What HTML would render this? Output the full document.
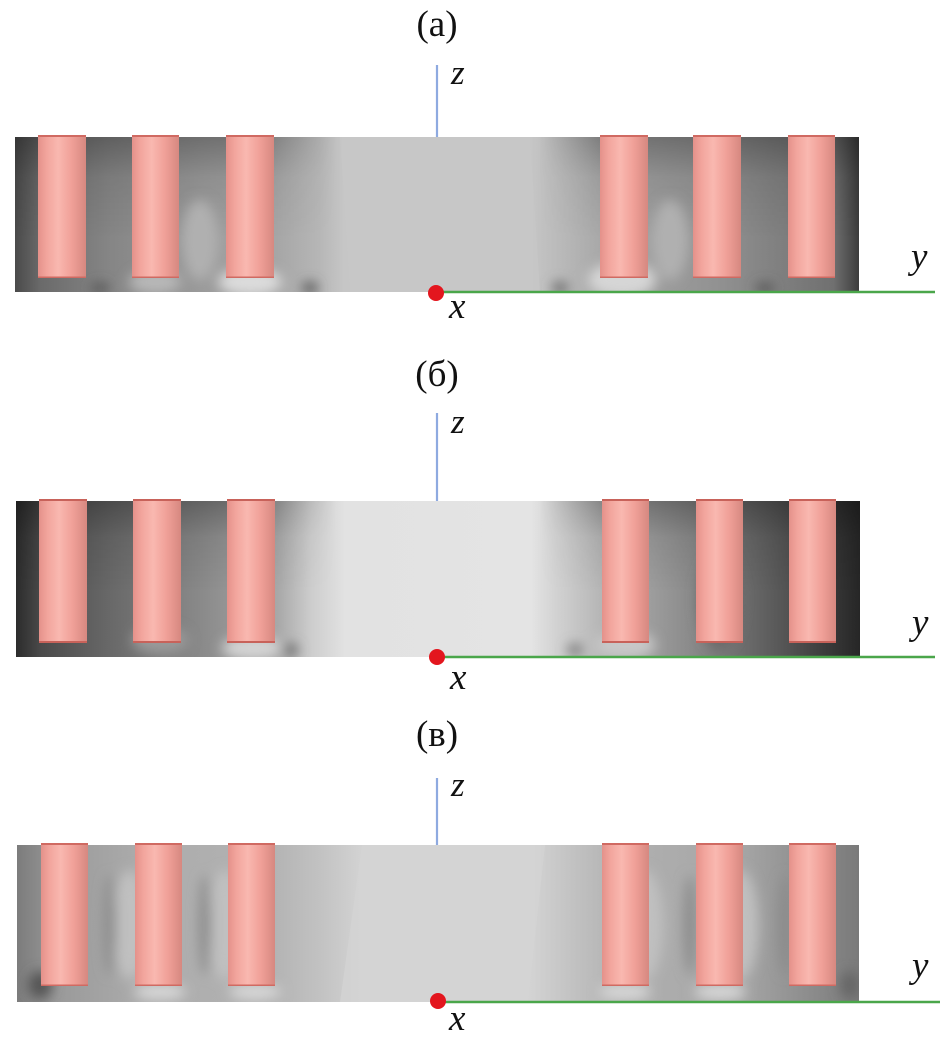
<!DOCTYPE html>
<html><head><meta charset="utf-8"><style>
html,body{margin:0;padding:0;background:#fff;}
svg{display:block;}
text{font-family:"Liberation Serif",serif;fill:#111;}
.it{font-style:italic;}
</style></head><body>
<svg width="945" height="1048" viewBox="0 0 945 1048" xmlns="http://www.w3.org/2000/svg">
<defs>
<linearGradient id="cyl" x1="0" y1="0" x2="1" y2="0">
<stop offset="0" stop-color="#e4918a"/>
<stop offset="0.18" stop-color="#f2a59d"/>
<stop offset="0.42" stop-color="#f9b8b0"/>
<stop offset="0.7" stop-color="#f0a098"/>
<stop offset="1" stop-color="#d68880"/>
</linearGradient>
<linearGradient id="ga" gradientUnits="userSpaceOnUse" x1="15" y1="0" x2="859" y2="0">
<stop offset="0" stop-color="#4a4a4a"/>
<stop offset="0.03" stop-color="#6a6a6a"/>
<stop offset="0.11" stop-color="#858585"/>
<stop offset="0.22" stop-color="#9a9a9a"/>
<stop offset="0.31" stop-color="#a6a6a6"/>
<stop offset="0.36" stop-color="#b6b6b6"/>
<stop offset="0.39" stop-color="#c6c6c6"/>
<stop offset="0.61" stop-color="#c6c6c6"/>
<stop offset="0.65" stop-color="#b8b8b8"/>
<stop offset="0.70" stop-color="#a6a6a6"/>
<stop offset="0.83" stop-color="#929292"/>
<stop offset="0.97" stop-color="#707070"/>
<stop offset="1" stop-color="#3c3c3c"/>
</linearGradient>
<linearGradient id="gb" gradientUnits="userSpaceOnUse" x1="16" y1="0" x2="860" y2="0">
<stop offset="0" stop-color="#2c2c2c"/>
<stop offset="0.03" stop-color="#4a4a4a"/>
<stop offset="0.11" stop-color="#686868"/>
<stop offset="0.22" stop-color="#8a8a8a"/>
<stop offset="0.31" stop-color="#a8a8a8"/>
<stop offset="0.35" stop-color="#cdcdcd"/>
<stop offset="0.39" stop-color="#e2e2e2"/>
<stop offset="0.61" stop-color="#e4e4e4"/>
<stop offset="0.64" stop-color="#d2d2d2"/>
<stop offset="0.70" stop-color="#b2b2b2"/>
<stop offset="0.80" stop-color="#8a8a8a"/>
<stop offset="0.90" stop-color="#5a5a5a"/>
<stop offset="1" stop-color="#262626"/>
</linearGradient>
<linearGradient id="gc" gradientUnits="userSpaceOnUse" x1="17" y1="0" x2="859" y2="0">
<stop offset="0" stop-color="#7c7c7c"/>
<stop offset="0.05" stop-color="#9a9a9a"/>
<stop offset="0.15" stop-color="#acacac"/>
<stop offset="0.30" stop-color="#b2b2b2"/>
<stop offset="0.36" stop-color="#c2c2c2"/>
<stop offset="0.41" stop-color="#d3d3d3"/>
<stop offset="0.61" stop-color="#d3d3d3"/>
<stop offset="0.66" stop-color="#c2c2c2"/>
<stop offset="0.72" stop-color="#b0b0b0"/>
<stop offset="0.86" stop-color="#a6a6a6"/>
<stop offset="1" stop-color="#7a7a7a"/>
</linearGradient>
<linearGradient id="topdark" x1="0" y1="0" x2="0" y2="1">
<stop offset="0" stop-color="#000" stop-opacity="0.28"/>
<stop offset="0.4" stop-color="#000" stop-opacity="0.08"/>
<stop offset="1" stop-color="#000" stop-opacity="0"/>
</linearGradient>
<linearGradient id="sidefade" gradientUnits="userSpaceOnUse" x1="15" y1="0" x2="860" y2="0">
<stop offset="0" stop-color="#fff"/>
<stop offset="0.28" stop-color="#fff"/>
<stop offset="0.38" stop-color="#000"/>
<stop offset="0.62" stop-color="#000"/>
<stop offset="0.70" stop-color="#fff"/>
<stop offset="1" stop-color="#fff"/>
</linearGradient>
<mask id="sm" maskUnits="userSpaceOnUse" x="0" y="0" width="945" height="1048">
<rect x="0" y="0" width="945" height="1048" fill="url(#sidefade)"/>
</mask>
<filter id="bl" x="-50%" y="-50%" width="200%" height="200%"><feGaussianBlur stdDeviation="6"/></filter>
<clipPath id="ca"><rect x="15" y="137" width="844" height="155"/></clipPath>
<clipPath id="cb"><rect x="16" y="501" width="844" height="156"/></clipPath>
<clipPath id="cc"><rect x="17" y="845" width="842" height="157"/></clipPath>
</defs>

<!-- ===== Panel (a) ===== -->
<text x="437" y="36" font-size="37" text-anchor="middle">(а)</text>
<line x1="437" y1="65" x2="437" y2="137" stroke="#8eaae0" stroke-width="2.2"/>
<text class="it" x="451" y="84" font-size="35">z</text>
<rect x="15" y="137" width="844" height="155" fill="url(#ga)"/>
<g clip-path="url(#ca)">
<rect x="15" y="137" width="844" height="100" fill="url(#topdark)" mask="url(#sm)"/>
<g filter="url(#bl)">
<ellipse cx="250" cy="282" rx="32" ry="14" fill="#dcdcdc"/>
<ellipse cx="155" cy="282" rx="26" ry="12" fill="#b8b8b8"/>
<ellipse cx="622" cy="280" rx="34" ry="18" fill="#d6d6d6"/>
<ellipse cx="200" cy="240" rx="18" ry="40" fill="#b0b0b0"/>
<ellipse cx="670" cy="240" rx="18" ry="40" fill="#b0b0b0"/>
<ellipse cx="310" cy="288" rx="8" ry="6" fill="#555"/>
<ellipse cx="100" cy="288" rx="10" ry="5" fill="#555"/>
<ellipse cx="560" cy="288" rx="8" ry="6" fill="#666"/>
<ellipse cx="765" cy="288" rx="10" ry="5" fill="#555"/>
</g>
<polygon points="340,137 530,137 540,292 350,292" fill="#c8c8c8" opacity="0.6"/>
</g>
<g>
<rect x="38" y="135" width="48" height="143" fill="url(#cyl)"/>
<rect x="132" y="135" width="47" height="143" fill="url(#cyl)"/>
<rect x="226" y="135" width="48" height="143" fill="url(#cyl)"/>
<rect x="600" y="135" width="48" height="143" fill="url(#cyl)"/>
<rect x="693" y="135" width="48" height="143" fill="url(#cyl)"/>
<rect x="788" y="135" width="47" height="143" fill="url(#cyl)"/>
<g fill="#d06a62">
<rect x="38" y="135" width="48" height="2"/><rect x="132" y="135" width="47" height="2"/><rect x="226" y="135" width="48" height="2"/>
<rect x="600" y="135" width="48" height="2"/><rect x="693" y="135" width="48" height="2"/><rect x="788" y="135" width="47" height="2"/>
<rect x="38" y="276.5" width="48" height="1.5"/><rect x="132" y="276.5" width="47" height="1.5"/><rect x="226" y="276.5" width="48" height="1.5"/>
<rect x="600" y="276.5" width="48" height="1.5"/><rect x="693" y="276.5" width="48" height="1.5"/><rect x="788" y="276.5" width="47" height="1.5"/>
</g>
</g>
<line x1="437" y1="292" x2="935" y2="292" stroke="#4aa64a" stroke-width="2.5"/>
<circle cx="436" cy="293" r="8" fill="#e3161e"/>
<text class="it" x="449" y="318" font-size="37">x</text>
<text class="it" x="911" y="268" font-size="37">y</text>

<!-- ===== Panel (б) ===== -->
<text x="437" y="386" font-size="37" text-anchor="middle">(б)</text>
<line x1="437" y1="413" x2="437" y2="501" stroke="#8eaae0" stroke-width="2.2"/>
<text class="it" x="451" y="433" font-size="35">z</text>
<rect x="16" y="501" width="844" height="156" fill="url(#gb)"/>
<g clip-path="url(#cb)">
<rect x="16" y="501" width="844" height="90" fill="url(#topdark)" mask="url(#sm)"/>
<g filter="url(#bl)">
<ellipse cx="252" cy="648" rx="30" ry="12" fill="#d4d4d4"/>
<ellipse cx="160" cy="640" rx="28" ry="14" fill="#9a9a9a"/>
<ellipse cx="625" cy="645" rx="30" ry="14" fill="#c8c8c8"/>
<ellipse cx="720" cy="600" rx="22" ry="50" fill="#6a6a6a"/>
<ellipse cx="290" cy="650" rx="8" ry="6" fill="#666"/>
<ellipse cx="575" cy="650" rx="8" ry="6" fill="#777"/>
</g>
</g>
<g>
<rect x="39" y="499" width="48" height="144" fill="url(#cyl)"/>
<rect x="133" y="499" width="48" height="144" fill="url(#cyl)"/>
<rect x="227" y="499" width="48" height="144" fill="url(#cyl)"/>
<rect x="602" y="499" width="47" height="144" fill="url(#cyl)"/>
<rect x="696" y="499" width="47" height="144" fill="url(#cyl)"/>
<rect x="789" y="499" width="47" height="144" fill="url(#cyl)"/>
<g fill="#c8625a">
<rect x="39" y="499" width="48" height="2"/><rect x="133" y="499" width="48" height="2"/><rect x="227" y="499" width="48" height="2"/>
<rect x="602" y="499" width="47" height="2"/><rect x="696" y="499" width="47" height="2"/><rect x="789" y="499" width="47" height="2"/>
<rect x="39" y="641" width="48" height="2"/><rect x="133" y="641" width="48" height="2"/><rect x="227" y="641" width="48" height="2"/>
<rect x="602" y="641" width="47" height="2"/><rect x="696" y="641" width="47" height="2"/><rect x="789" y="641" width="47" height="2"/>
</g>
</g>
<line x1="437" y1="657" x2="935" y2="657" stroke="#4aa64a" stroke-width="2.5"/>
<circle cx="437" cy="657" r="8" fill="#e3161e"/>
<text class="it" x="450" y="689" font-size="37">x</text>
<text class="it" x="912" y="634" font-size="37">y</text>

<!-- ===== Panel (в) ===== -->
<text x="437" y="746" font-size="37" text-anchor="middle">(в)</text>
<line x1="437" y1="778" x2="437" y2="845" stroke="#8eaae0" stroke-width="2.2"/>
<text class="it" x="451" y="796" font-size="35">z</text>
<rect x="17" y="845" width="842" height="157" fill="url(#gc)"/>
<g clip-path="url(#cc)">
<g filter="url(#bl)">
<ellipse cx="130" cy="925" rx="18" ry="55" fill="#c0c0c0"/>
<ellipse cx="225" cy="925" rx="18" ry="55" fill="#c0c0c0"/>
<ellipse cx="645" cy="925" rx="18" ry="55" fill="#c0c0c0"/>
<ellipse cx="740" cy="925" rx="18" ry="55" fill="#c0c0c0"/>
<ellipse cx="110" cy="925" rx="6" ry="50" fill="#8a8a8a"/>
<ellipse cx="205" cy="925" rx="6" ry="50" fill="#8a8a8a"/>
<ellipse cx="690" cy="925" rx="6" ry="50" fill="#8a8a8a"/>
<ellipse cx="785" cy="925" rx="6" ry="50" fill="#8a8a8a"/>
<ellipse cx="40" cy="985" rx="12" ry="14" fill="#555"/>
<ellipse cx="850" cy="985" rx="10" ry="14" fill="#666"/>
<ellipse cx="160" cy="992" rx="26" ry="8" fill="#d8d8d8"/>
<ellipse cx="255" cy="992" rx="26" ry="8" fill="#d8d8d8"/>
<ellipse cx="625" cy="992" rx="26" ry="8" fill="#d8d8d8"/>
<ellipse cx="720" cy="992" rx="26" ry="8" fill="#d8d8d8"/>
</g>
<polygon points="362,845 545,845 528,1002 340,1002" fill="#d4d4d4" opacity="0.7"/>
</g>
<g>
<rect x="41" y="843" width="47" height="143" fill="url(#cyl)"/>
<rect x="135" y="843" width="47" height="143" fill="url(#cyl)"/>
<rect x="228" y="843" width="47" height="143" fill="url(#cyl)"/>
<rect x="602" y="843" width="47" height="143" fill="url(#cyl)"/>
<rect x="696" y="843" width="47" height="143" fill="url(#cyl)"/>
<rect x="789" y="843" width="47" height="143" fill="url(#cyl)"/>
<g fill="#d06a62">
<rect x="41" y="843" width="47" height="2"/><rect x="135" y="843" width="47" height="2"/><rect x="228" y="843" width="47" height="2"/>
<rect x="602" y="843" width="47" height="2"/><rect x="696" y="843" width="47" height="2"/><rect x="789" y="843" width="47" height="2"/>
<rect x="41" y="984.5" width="47" height="1.5"/><rect x="135" y="984.5" width="47" height="1.5"/><rect x="228" y="984.5" width="47" height="1.5"/>
<rect x="602" y="984.5" width="47" height="1.5"/><rect x="696" y="984.5" width="47" height="1.5"/><rect x="789" y="984.5" width="47" height="1.5"/>
</g>
</g>
<line x1="437" y1="1002" x2="940" y2="1002" stroke="#4aa64a" stroke-width="2.5"/>
<circle cx="438" cy="1001" r="8" fill="#e3161e"/>
<text class="it" x="449" y="1030" font-size="37">x</text>
<text class="it" x="912" y="977" font-size="37">y</text>
</svg>
</body></html>
